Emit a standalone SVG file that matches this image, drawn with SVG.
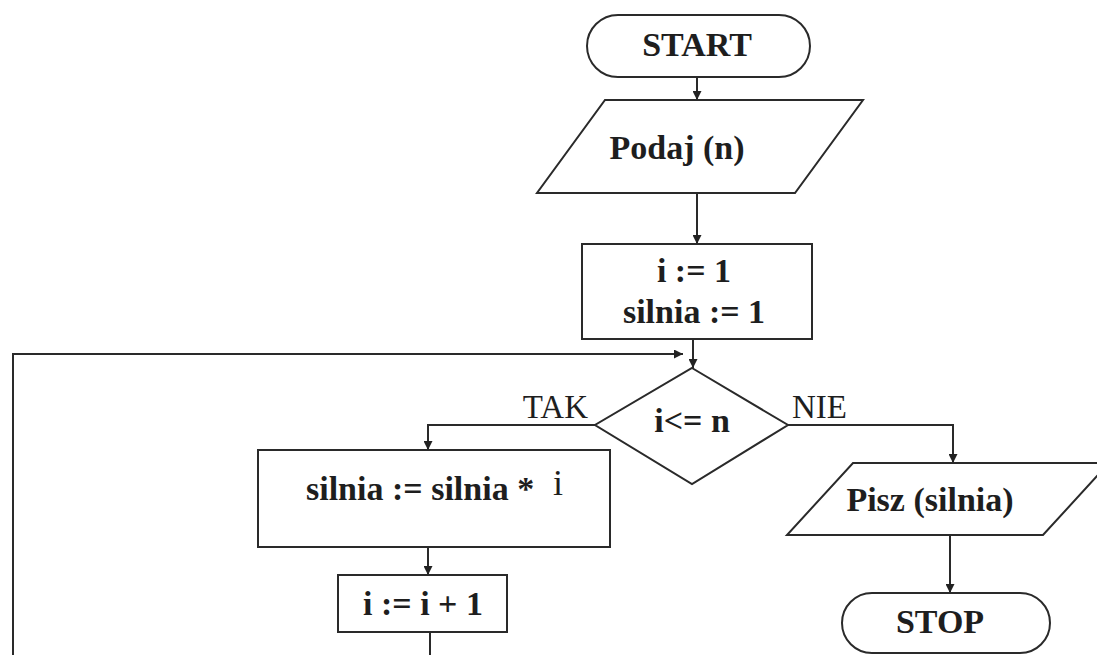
<svg xmlns="http://www.w3.org/2000/svg" width="1097" height="655" viewBox="0 0 1097 655">
  <defs>
    <marker id="arrow" viewBox="0 0 10 10" refX="10" refY="5" markerWidth="9" markerHeight="9" markerUnits="userSpaceOnUse" orient="auto">
      <path d="M0,0 L10,5 L0,10 z" fill="#222"/>
    </marker>
    <style>
      .shape { fill: #fff; stroke: #2a2a2a; stroke-width: 2; }
      .line { fill: none; stroke: #2a2a2a; stroke-width: 2; }
      .arr { marker-end: url(#arrow); }
      text { font-family: 'Liberation Serif', 'DejaVu Serif', serif; fill: #1e1e1e; font-size: 33px; }
      .lbl { font-weight: bold; font-size: 34px; }
    </style>
  </defs>
  <rect width="1097" height="655" fill="#fff"/>

  <!-- connectors -->
  <g id="connectors">
    <line class="line arr" x1="697" y1="77" x2="697" y2="100"/>
    <line class="line arr" x1="697" y1="193" x2="697" y2="244"/>
    <line class="line arr" x1="693" y1="339" x2="693" y2="368"/>
    <!-- loop back -->
    <polyline class="line" points="430,632 430,655"/>
    <polyline class="line arr" points="13,655 13,354 683,354"/>
    <!-- TAK branch -->
    <polyline class="line arr" points="595,425 428,425 428,450"/>
    <line class="line arr" x1="428" y1="547" x2="428" y2="575"/>
    <!-- NIE branch -->
    <polyline class="line arr" points="788,425 953,425 953,463"/>
    <line class="line arr" x1="950" y1="535" x2="950" y2="593"/>
    <text x="588" y="418" text-anchor="end">TAK</text>
    <text x="792" y="418">NIE</text>
  </g>

  <g id="start">
    <rect class="shape" x="587" y="15" width="223" height="62" rx="31" ry="31"/>
    <text class="lbl" x="697" y="56" text-anchor="middle">START</text>
  </g>

  <g id="input">
    <polygon class="shape" points="605,100 863,100 795,193 537,193"/>
    <text class="lbl" x="677" y="159" text-anchor="middle">Podaj (n)</text>
  </g>

  <g id="init">
    <rect class="shape" x="582" y="244" width="230" height="95"/>
    <text class="lbl" x="694" y="282" text-anchor="middle">i := 1</text>
    <text class="lbl" x="694" y="323" text-anchor="middle">silnia := 1</text>
  </g>

  <g id="condition">
    <polygon class="shape" points="692,368 788,425 692,484 595,425"/>
    <text class="lbl" x="692" y="432" text-anchor="middle">i&lt;= n</text>
  </g>

  <g id="multiply">
    <rect class="shape" x="258" y="450" width="352" height="97"/>
    <text class="lbl" x="306" y="500">silnia := silnia *</text>
    <text x="558" y="495" text-anchor="middle" style="font-size:36px">i</text>
  </g>

  <g id="increment">
    <rect class="shape" x="338" y="575" width="169" height="57"/>
    <text class="lbl" x="423" y="615" text-anchor="middle">i := i + 1</text>
  </g>

  <g id="output">
    <polygon class="shape" points="853,463 1109,463 1043,535 787,535"/>
    <text class="lbl" x="930" y="511" text-anchor="middle">Pisz (silnia)</text>
  </g>

  <g id="stop">
    <rect class="shape" x="842" y="593" width="208" height="60" rx="30" ry="30"/>
    <text class="lbl" x="940" y="633" text-anchor="middle">STOP</text>
  </g>
</svg>
